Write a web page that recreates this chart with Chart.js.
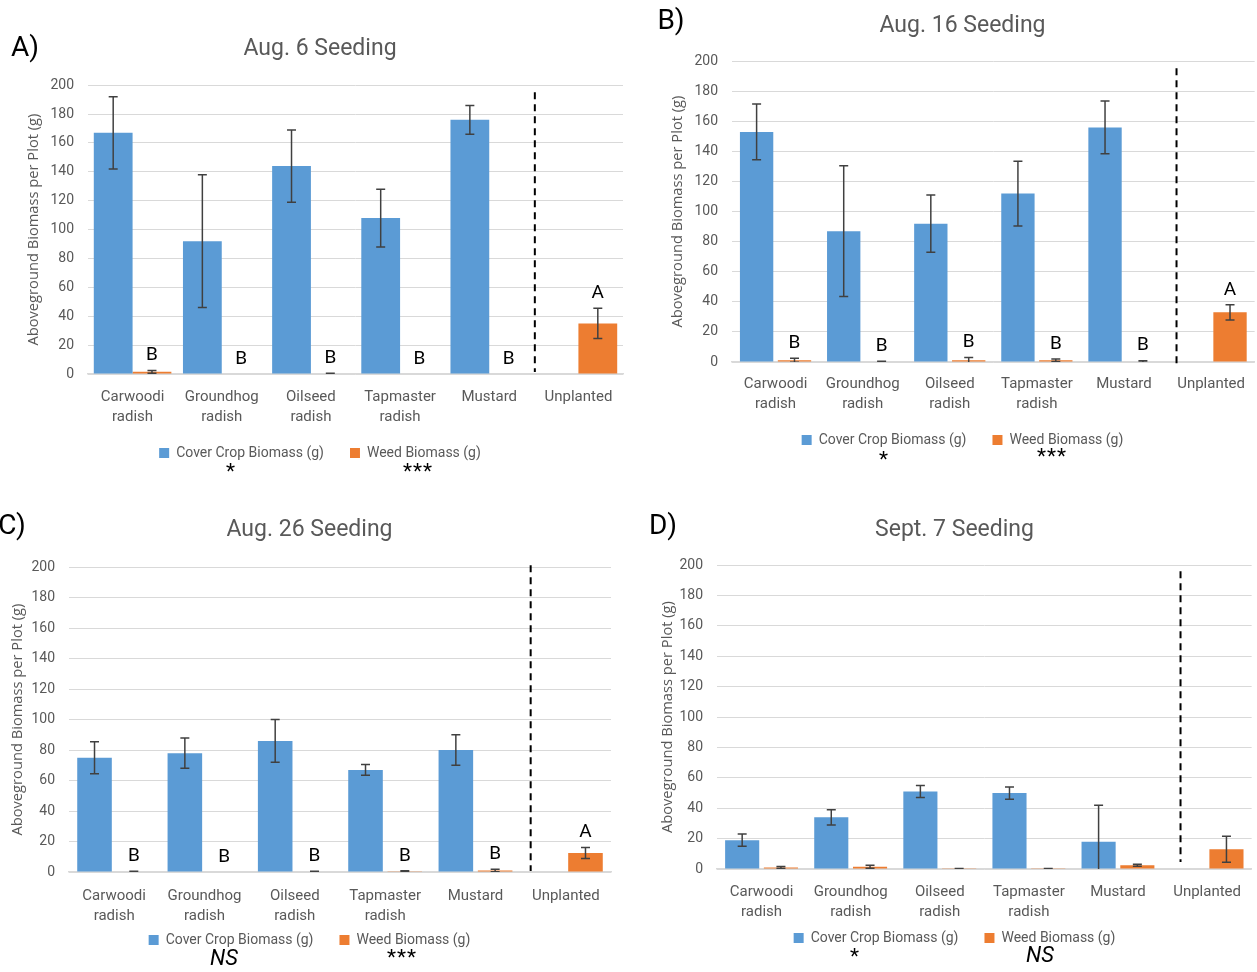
<!DOCTYPE html>
<html><head><meta charset="utf-8">
<script src="https://cdn.jsdelivr.net/npm/chart.js@4.4.1/dist/chart.umd.min.js"></script>
<style>
html,body{margin:0;padding:0;background:#fff;}
body{width:1257px;height:972px;overflow:hidden;position:relative;font-family:Roboto,sans-serif;}
canvas{position:absolute;}
.note{position:absolute;transform:translate(-50%,-50%);white-space:nowrap;color:#000;line-height:1;}
</style></head><body>
<script>
// ---------- data ----------
const categories = [["Carwoodi","radish"],["Groundhog","radish"],["Oilseed","radish"],["Tapmaster","radish"],"Mustard","Unplanted"];
const seriesNames = ["Cover Crop Biomass (g)", "Weed Biomass (g)"];
const yAxisTitle = "Aboveground Biomass per Plot (g)";
const yTickMin = 0, yTickMax = 200, yTickStep = 20;
const panelTitles = ["Aug. 6 Seeding", "Aug. 16 Seeding", "Aug. 26 Seeding", "Sept. 7 Seeding"];
const panelLetters = ["A)", "B)", "C)", "D)"];

const coverA = [167, 92, 144, 108, 176, null];
const coverErrA = [25, 46, 25, 20, 10, null];
const weedA = [1.5, 0, 0.3, 0, 0, 35];
const weedErrA = [1, 0, 0.3, 0, 0, 10.5];
const lettersA = ["B", "B", "B", "B", "B", "A"];
const signifA = ["*", "***"];

const coverB = [153, 87, 92, 112, 156, null];
const coverErrB = [18.5, 43.5, 19, 21.5, 17.5, null];
const weedB = [1.2, 0.3, 1.2, 1.2, 0.3, 33];
const weedErrB = [1.3, 0.2, 1.8, 0.8, 0.6, 5];
const lettersB = ["B", "B", "B", "B", "B", "A"];
const signifB = ["*", "***"];

const coverC = [75, 78, 86, 67, 80, null];
const coverErrC = [10.5, 10, 14, 3.5, 10, null];
const weedC = [0.3, 0, 0.3, 0.5, 1, 12.5];
const weedErrC = [0.2, 0, 0.2, 0.3, 0.8, 3.6];
const lettersC = ["B", "B", "B", "B", "B", "A"];
const signifC = ["NS", "***"];

const coverD = [19, 34, 51, 50, 18, null];
const coverErrD = [4, 5, 4, 4, 24, null];
const weedD = [1, 1.5, 0.2, 0.2, 2.5, 13];
const weedErrD = [0.6, 1, 0.2, 0.2, 0.7, 8.5];
const lettersD = ["", "", "", "", "", ""];
const signifD = ["*", "NS"];

// ---------- drawing ----------
const FONT = "Roboto, 'Liberation Sans', sans-serif";
const GREY = '#595959';
const BLUE = '#5B9BD5', ORANGE = '#ED7D31';

const annotPlugin = {
  id: 'annot',
  afterLayout(chart, args, opts) {
    const lg = chart.legend;
    if (lg && opts.legendShift) { lg.top += opts.legendShift; lg.bottom += opts.legendShift; }
  },
  afterDatasetsDraw(chart, args, opts) {
    const {ctx, chartArea: ca, scales: {x, y}} = chart;
    // error bars
    ctx.save();
    ctx.beginPath();
    ctx.rect(ca.left, ca.top - 1, ca.right - ca.left, ca.bottom - ca.top + 1);
    ctx.clip();
    ctx.strokeStyle = '#404040';
    ctx.lineWidth = 1.5;
    chart.data.datasets.forEach((ds, di) => {
      const meta = chart.getDatasetMeta(di);
      ds.errors.forEach((e, i) => {
        const v = ds.data[i];
        if (v == null || !e) return;
        const px = meta.data[i].x;
        const yT = y.getPixelForValue(v + e), yB = y.getPixelForValue(v - e);
        ctx.beginPath();
        ctx.moveTo(px, yT); ctx.lineTo(px, yB);
        ctx.moveTo(px - 4.5, yT); ctx.lineTo(px + 4.5, yT);
        ctx.moveTo(px - 4.5, yB); ctx.lineTo(px + 4.5, yB);
        ctx.stroke();
      });
    });
    ctx.restore();
    // dashed divider between planted and unplanted groups
    ctx.save();
    const dx = (x.getPixelForValue(4) + x.getPixelForValue(5)) / 2 + opts.dashDx;
    ctx.strokeStyle = '#000';
    ctx.lineWidth = 2;
    ctx.setLineDash([7, 5]);
    ctx.beginPath();
    ctx.moveTo(dx, ca.top + opts.dashTop);
    ctx.lineTo(dx, ca.bottom - opts.dashBottom);
    ctx.stroke();
    ctx.restore();
    // significance letters above weed bars
    ctx.save();
    ctx.fillStyle = '#000';
    ctx.font = "19px " + FONT;
    ctx.textAlign = 'center';
    ctx.textBaseline = 'middle';
    const wds = chart.data.datasets[1];
    const wmeta = chart.getDatasetMeta(1);
    opts.letters.forEach((L, i) => {
      if (!L) return;
      const v = (wds.data[i] || 0) + (wds.errors[i] || 0);
      ctx.fillText(L, wmeta.data[i].x, y.getPixelForValue(v) - 15);
    });
    ctx.restore();
  }
};

function makePanel(p) {
  const cv = document.createElement('canvas');
  cv.width = p.w; cv.height = p.h;
  cv.style.left = p.left + 'px'; cv.style.top = p.top + 'px';
  document.body.appendChild(cv);
  new Chart(cv, {
    type: 'bar',
    data: {
      labels: categories,
      datasets: [
        {label: seriesNames[0], data: p.cover, errors: p.coverErr, backgroundColor: BLUE, borderWidth: 0},
        {label: seriesNames[1], data: p.weed, errors: p.weedErr, backgroundColor: ORANGE, borderWidth: 0}
      ]
    },
    options: {
      responsive: false,
      animation: false,
      events: [],
      layout: {padding: {left: p.side, right: p.side, top: 0, bottom: p.bottom}},
      datasets: {bar: {categoryPercentage: 0.87, barPercentage: p.barPct}},
      scales: {
        x: {
          grid: {display: false, drawTicks: false},
          border: {display: true, color: '#d9d9d9', width: 1.5},
          ticks: {color: GREY, font: {family: FONT, size: 15, lineHeight: 1.33}, padding: p.xPad, maxRotation: 0, autoSkip: false},
          afterFit(s) { s.height = p.xH; }
        },
        y: {
          min: yTickMin, max: yTickMax,
          ticks: {stepSize: yTickStep, color: GREY, font: {family: FONT, size: 14}, padding: 14},
          grid: {color: '#d9d9d9', lineWidth: 1, drawTicks: false},
          border: {display: false},
          title: {display: true, text: yAxisTitle, color: GREY, font: {family: "'Open Sans', sans-serif", size: 14.7}, padding: {top: p.yTitlePad, bottom: 0}},
          afterFit(s) { s.width = p.yW; }
        }
      },
      plugins: {
        title: {display: true, text: p.title, color: GREY, font: {family: FONT, size: 23, weight: 'normal', lineHeight: 1.1}, padding: {top: p.tTop, bottom: p.tBot}},
        legend: {position: 'bottom', labels: {boxWidth: 10, boxHeight: 10, color: GREY, font: {family: FONT, size: 14}, padding: 26}},
        tooltip: {enabled: false},
        annot: {letters: p.letters, dashTop: p.dashTop, dashBottom: p.dashBottom, dashDx: p.dashDx, legendShift: p.legendShift}
      }
    },
    plugins: [annotPlugin]
  });
}

function note(text, cx, cy, css) {
  const d = document.createElement('div');
  d.className = 'note';
  d.textContent = text;
  d.style.left = cx + 'px'; d.style.top = cy + 'px';
  d.style.cssText += css;
  document.body.appendChild(d);
}

makePanel({left: 0, top: 0, w: 640, h: 500, side: 17, yW: 71, yTitlePad: 7.6, xPad: 13, xH: 55, bottom: 21, legendShift: -9,
  tTop: 36.5, tBot: 23.4, barPct: 1.0, dashTop: 7, dashBottom: 2, dashDx: 1,
  title: panelTitles[0], cover: coverA, coverErr: coverErrA, weed: weedA, weedErr: weedErrA, letters: lettersA});
makePanel({left: 668, top: 0, w: 589, h: 500, side: 0, yW: 64, yTitlePad: 0.6, xPad: 12, xH: 54, bottom: 34, legendShift: -9,
  tTop: 13.5, tBot: 22.4, barPct: 0.88, dashTop: 7, dashBottom: -3, dashDx: 9,
  title: panelTitles[1], cover: coverB, coverErr: coverErrB, weed: weedB, weedErr: weedErrB, letters: lettersB});
makePanel({left: 0, top: 480, w: 619, h: 498, side: 8, yW: 61, yTitlePad: 0.6, xPad: 14, xH: 56, bottom: 0, legendShift: -21,
  tTop: 37.5, tBot: 24.4, barPct: 0.88, dashTop: -2, dashBottom: 1, dashDx: 10,
  title: panelTitles[2], cover: coverC, coverErr: coverErrC, weed: weedC, weedErr: weedErrC, letters: lettersC});
makePanel({left: 655, top: 480, w: 599, h: 498, side: 0, yW: 62, yTitlePad: 3.6, xPad: 13, xH: 55, bottom: 4, legendShift: -19,
  tTop: 37.5, tBot: 22.4, barPct: 0.88, dashTop: 6, dashBottom: 7, dashDx: 18,
  title: panelTitles[3], cover: coverD, coverErr: coverErrD, weed: weedD, weedErr: weedErrD, letters: lettersD});

const labelCss = 'font-size:28px;';
note(panelLetters[0], 25, 47, labelCss);
note(panelLetters[1], 671, 20, labelCss);
note(panelLetters[2], 12, 525, labelCss);
note(panelLetters[3], 663, 525, labelCss);

function sigCss(t) { return t === 'NS' ? 'font-size:22px;font-style:italic;' : 'font-size:21px;letter-spacing:1px;'; }
function sigDy(t) { return t === 'NS' ? 0 : 4; }
note(signifA[0], 231, 467 + sigDy(signifA[0]), sigCss(signifA[0]));
note(signifA[1], 418, 467 + sigDy(signifA[1]), sigCss(signifA[1]));
note(signifB[0], 884, 455 + sigDy(signifB[0]), sigCss(signifB[0]));
note(signifB[1], 1052, 452 + sigDy(signifB[1]), sigCss(signifB[1]));
note(signifC[0], 224, 958 + sigDy(signifC[0]), sigCss(signifC[0]));
note(signifC[1], 402, 953 + sigDy(signifC[1]), sigCss(signifC[1]));
note(signifD[0], 855, 952 + sigDy(signifD[0]), sigCss(signifD[0]));
note(signifD[1], 1040, 955 + sigDy(signifD[1]), sigCss(signifD[1]));
</script>
</body></html>
